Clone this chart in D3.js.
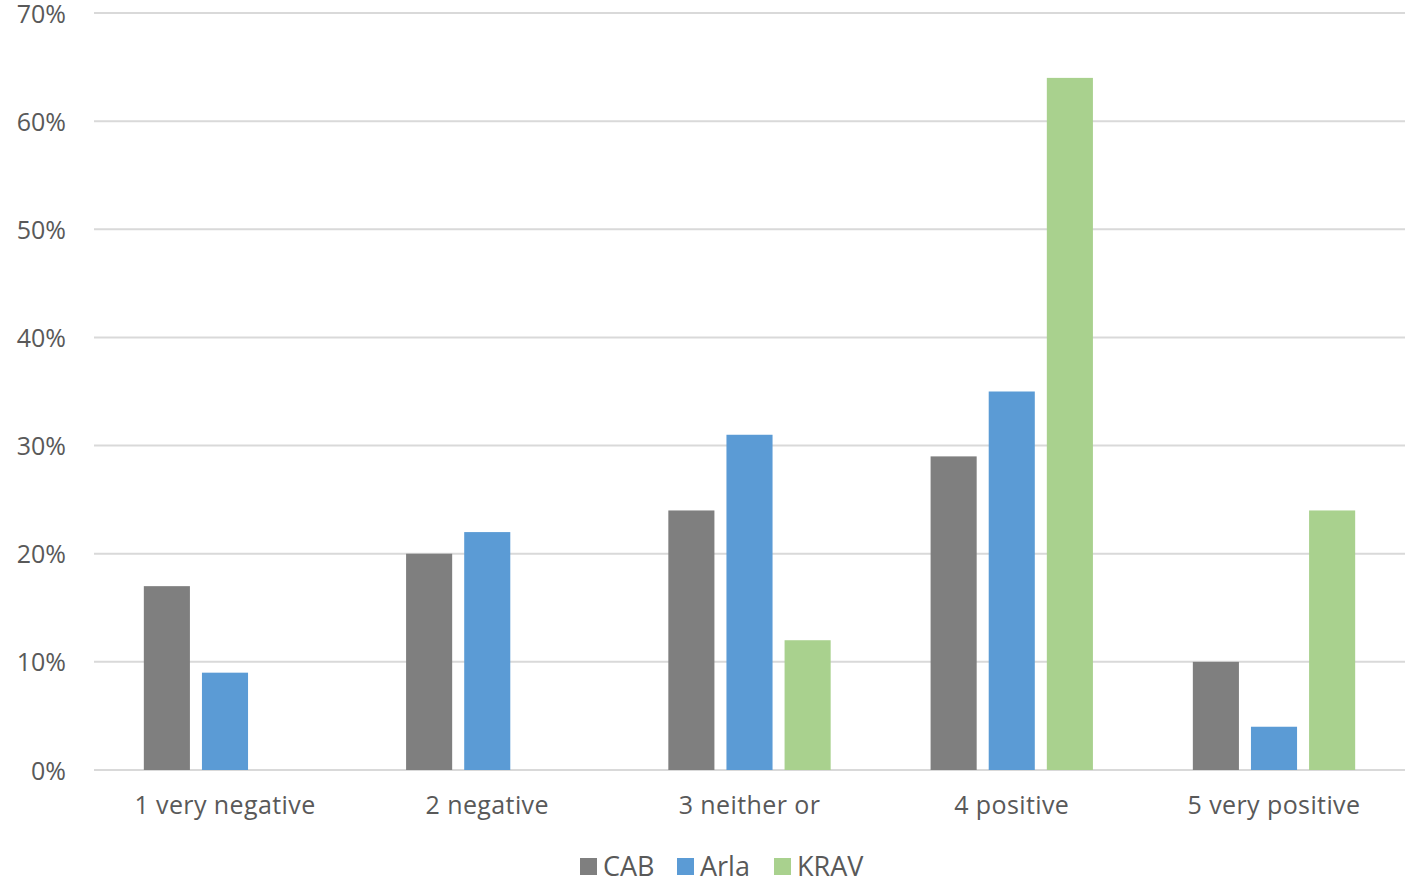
<!DOCTYPE html>
<html>
<head>
<meta charset="utf-8">
<script src="https://cdn.jsdelivr.net/npm/d3@7"></script>
<style>
  body { margin: 0; background: #fff; }
  #chart { width: 1417px; height: 885px; }
  text { font-family: "Open Sans", "Noto Sans", sans-serif; fill: #595959; }
</style>
</head>
<body>
<div id="chart"></div>
<script>
var categories = ["1 very negative", "2 negative", "3 neither or", "4 positive", "5 very positive"];
var seriesNames = ["CAB", "Arla", "KRAV"];
var cabValues = [17, 20, 24, 29, 10];
var arlaValues = [9, 22, 31, 35, 4];
var kravValues = [0, 0, 12, 64, 24];
var yTicks = [0, 10, 20, 30, 40, 50, 60, 70];
var colors = ["#7f7f7f", "#5b9bd5", "#a9d18e"];

var seriesValues = [cabValues, arlaValues, kravValues];

var width = 1417, height = 885;
var svg = d3.select("#chart").append("svg")
    .attr("width", width)
    .attr("height", height);

var x0 = d3.scaleBand()
    .domain(categories)
    .range([94, 1405])
    .paddingInner(0.381)
    .paddingOuter(0.19);

var x1 = d3.scaleBand()
    .domain(seriesNames)
    .range([0, x0.bandwidth()])
    .paddingInner(0.207)
    .paddingOuter(0);

var y = d3.scaleLinear()
    .domain([0, 70])
    .range([770, 13]);

var color = d3.scaleOrdinal().domain(seriesNames).range(colors);

// gridlines
svg.append("g")
    .selectAll("line")
    .data(yTicks)
    .enter()
    .append("line")
    .attr("x1", 94)
    .attr("x2", 1405)
    .attr("y1", function(d) { return y(d); })
    .attr("y2", function(d) { return y(d); })
    .attr("stroke", "#d9d9d9")
    .attr("stroke-width", 2);

// y axis labels
var yAxis = d3.axisLeft(y)
    .tickValues(yTicks)
    .tickFormat(function(d) { return d + "%"; })
    .tickSize(0)
    .tickPadding(28);

svg.append("g")
    .attr("transform", "translate(94,0)")
    .call(yAxis)
    .call(function(g) { g.select(".domain").remove(); })
    .selectAll("text")
    .style("font-size", "25px")
    .attr("dy", "0.36em")
    .attr("fill", "#595959");

// bars
var rows = categories.map(function(c, i) {
    return {
        category: c,
        values: seriesNames.map(function(s, j) {
            return { key: s, value: seriesValues[j][i] };
        })
    };
});

var groups = svg.append("g")
    .selectAll("g")
    .data(rows)
    .enter()
    .append("g")
    .attr("transform", function(d) { return "translate(" + x0(d.category) + ",0)"; });

groups.selectAll("rect")
    .data(function(d) { return d.values.filter(function(v) { return v.value > 0; }); })
    .enter()
    .append("rect")
    .attr("x", function(d) { return x1(d.key); })
    .attr("width", x1.bandwidth())
    .attr("y", function(d) { return y(d.value); })
    .attr("height", function(d) { return y(0) - y(d.value); })
    .attr("fill", function(d) { return color(d.key); });

// x axis labels
var xAxis = d3.axisBottom(x0)
    .tickSize(0)
    .tickPadding(26);

svg.append("g")
    .attr("transform", "translate(0,770)")
    .call(xAxis)
    .call(function(g) { g.select(".domain").remove(); })
    .selectAll("text")
    .style("font-size", "25px")
    .style("letter-spacing", "0.4px")
    .attr("fill", "#595959");

// legend
var legendX = [580, 677, 774];
var legend = svg.append("g")
    .selectAll("g")
    .data(seriesNames)
    .enter()
    .append("g")
    .attr("transform", function(d, i) { return "translate(" + legendX[i] + ",858)"; });

legend.append("rect")
    .attr("width", 17)
    .attr("height", 17)
    .attr("fill", function(d) { return color(d); });

legend.append("text")
    .attr("x", 23)
    .attr("y", 18)
    .style("font-size", "27px")
    .text(function(d) { return d; });
</script>
</body>
</html>
